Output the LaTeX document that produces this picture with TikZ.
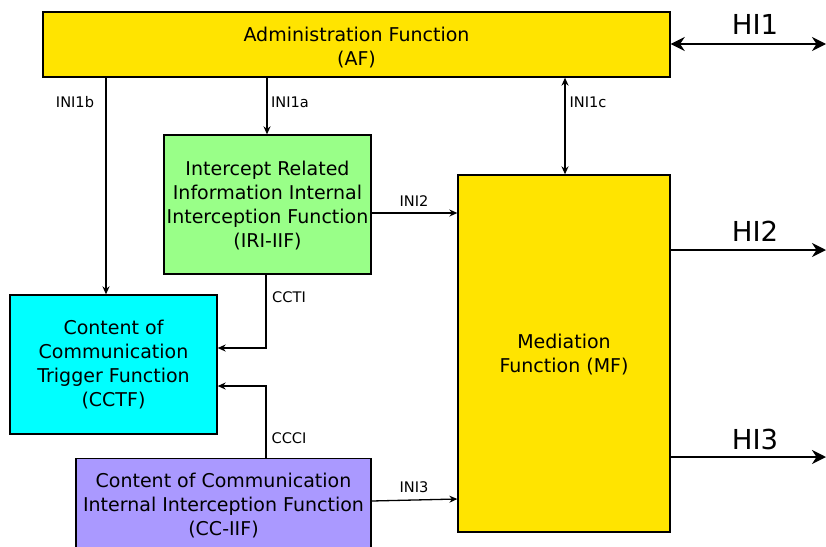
\documentclass[tikz,border=0pt]{standalone}
\usepackage{fontspec}
\setmainfont{DejaVu Sans}
\usetikzlibrary{arrows.meta}
\definecolor{afyellow}{HTML}{FFE400}
\definecolor{irigreen}{HTML}{99FF88}
\definecolor{cccyan}{HTML}{00FFFF}
\definecolor{ccpurple}{HTML}{AA99FF}
\begin{document}
\begin{tikzpicture}[x=1pt,y=-1pt,
  box/.style={draw=black,line width=1.3pt,align=center,inner sep=0pt,font=\fontsize{19}{24}\selectfont},
  tip/.tip={Stealth[length=8pt,width=7pt]},
  bigtip/.tip={Stealth[length=14pt,width=14pt]},
  conn/.style={line width=1.3pt,-tip},
  lbl/.style={font=\fontsize{14.6}{16}\selectfont,inner sep=0pt},
  hi/.style={line width=2.6pt,-bigtip},
  hilbl/.style={font=\fontsize{27.5}{30}\selectfont,inner sep=0pt}]
\useasboundingbox (0,0) rectangle (826,546);
\clip (0,0) rectangle (826,546);
% boxes
\node[box,fill=afyellow,minimum width=627pt,minimum height=65pt] (af) at (356.5,44.5) {\rule{0pt}{20.5pt}Administration Function\\(AF)};
\node[box,fill=irigreen,minimum width=207pt,minimum height=139pt] (iri) at (267.5,204.5) {\rule{0pt}{16.5pt}Intercept Related\\Information Internal\\Interception Function\\(IRI-IIF)};
\node[box,fill=afyellow,minimum width=212pt,minimum height=357pt] (mf) at (564,353.5) {\rule{0pt}{16.5pt}Mediation\\Function (MF)};
\node[box,fill=cccyan,minimum width=207pt,minimum height=139pt] (cctf) at (113.5,364.5) {Content of\\Communication\\Trigger Function\\(CCTF)};
\node[box,fill=ccpurple,minimum width=295pt,minimum height=130pt,anchor=north] (cciif) at (223.5,458) {};
\node[font=\fontsize{19}{24}\selectfont,align=center,anchor=north,inner sep=0pt] (cctext) at (223.5,473) {Content of Communication\\Internal Interception Function\\(CC-IIF)};
% free ends
\coordinate (r1) at (826,44);
\coordinate (r2) at (826,250);
\coordinate (r3) at (826,457);
% connectors
\draw[conn] (af.south -| 106,0) -- (cctf.north -| 106,0);
\draw[conn] (af.south -| 267,0) -- (iri.north -| 267,0);
\draw[conn,tip-tip] (af.south -| 565,0) -- (mf.north -| 565,0);
\draw[conn] (iri.east |- 0,213) -- (mf.west |- 0,213);
\draw[conn] (iri.south -| 266,0) |- (cctf.east |- 0,348);
\draw[conn] (cciif.north -| 266,0) |- (cctf.east |- 0,386);
\draw[conn] (cciif.east |- 0,501) -- (mf.west |- 0,499);
\draw[hi,bigtip-bigtip] (af.east |- r1) -- (r1);
\draw[hi] (mf.east |- r2) -- (r2);
\draw[hi] (mf.east |- r3) -- (r3);
% labels
\node[lbl] (l1b) at (75,102) {INI1b};
\node[lbl] (l1a) at (290,102) {INI1a};
\node[lbl] (l1c) at (588,102) {INI1c};
\node[lbl] (l2) at (414,201) {INI2};
\node[lbl] (lccti) at (289,297) {CCTI};
\node[lbl] (lccci) at (289,438) {CCCI};
\node[lbl] (l3) at (414,487) {INI3};
\node[hilbl] (h1) at (755,24) {HI1};
\node[hilbl] (h2) at (755,231) {HI2};
\node[hilbl] (h3) at (755,439) {HI3};
\end{tikzpicture}
\end{document}
